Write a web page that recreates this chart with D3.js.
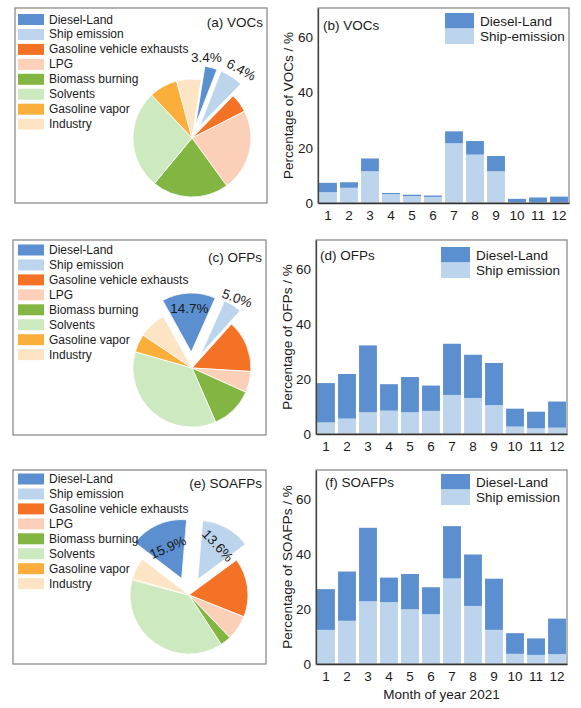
<!DOCTYPE html>
<html>
<head>
<meta charset="utf-8">
<script src="https://d3js.org/d3.v7.min.js"></script>
<style>
  body { margin: 0; background: #fff; }
  text { font-family: "Liberation Sans", Arial, sans-serif; fill: #1a1a1a; }
</style>
</head>
<body>
<svg id="vis"></svg>
<script>
// ---- data ----
const sources = ['Diesel-Land', 'Ship emission', 'Gasoline vehicle exhausts', 'LPG',
                 'Biomass burning', 'Solvents', 'Gasoline vapor', 'Industry'];
const srcColors = ['#5b8fcf', '#bcd4ec', '#f37226', '#fcd0b8', '#82b541', '#cde9c0', '#fbae3c', '#fde4c4'];

// pie shares (%) in the same order as sources
const vocShare   = [3.4, 6.4, 5.2, 22.5, 21.0, 27.0, 7.8, 6.7];
const ofpShare   = [14.7, 5.0, 14.3, 5.8, 11.7, 36.0, 5.0, 7.5];
const soafpShare = [15.9, 13.6, 16.1, 6.8, 3.0, 38.3, 0.3, 6.0];

const months = ['1', '2', '3', '4', '5', '6', '7', '8', '9', '10', '11', '12'];
const yTicks = [0, 20, 40, 60];

// monthly percentages: ship part and diesel-land part stacked on top
const vocShip    = [3.9, 5.5, 11.5, 3.2, 2.5, 2.2, 21.6, 17.5, 11.5, 0.2, 0.2, 0.2];
const vocDiesel  = [3.4, 2.0, 4.6, 0.4, 0.5, 0.5, 4.3, 4.9, 5.5, 1.3, 1.8, 2.1];
const ofpShip    = [4.2, 5.6, 7.9, 8.5, 7.9, 8.4, 14.2, 13.1, 10.5, 2.7, 2.1, 2.3];
const ofpDiesel  = [14.3, 16.2, 24.3, 9.6, 12.8, 9.2, 18.6, 15.7, 15.3, 6.5, 6.0, 9.5];
const soaShip    = [12.4, 15.7, 22.8, 22.5, 19.9, 18.1, 31.1, 21.1, 12.4, 3.7, 3.3, 3.6];
const soaDiesel  = [14.8, 17.9, 26.7, 8.9, 12.8, 9.8, 19.0, 18.7, 18.6, 7.5, 6.0, 12.9];

// ---- layout ----
const W = 581, H = 708;
const svg = d3.select('#vis').attr('width', W).attr('height', H);

const piePanels = [
  { box: [15, 8, 267, 203], cx: 192, cy: 138, r: 59, start: 9, explode: 14, title: '(a) VOCs', titleY: 27,
    legY: 19.5, shares: vocShare,
    labels: [{ dist: 82, dang: -5, rot: 0, size: 13.5 }, { dist: 84, dang: 3, rot: 28, size: 13.5 }] },
  { box: [13, 240, 266, 435], cx: 192, cy: 368, r: 59, start: -29, explode: 16, title: '(c) OFPs', titleY: 262,
    legY: 250, shares: ofpShare,
    labels: [{ dist: 60, dang: 0, rot: 0, size: 13.5 }, { dist: 83, dang: 0, rot: 20, size: 13.5 }] },
  { box: [13, 470, 266, 664], cx: 189, cy: 595, r: 59, start: -52.5, explode: 18, title: '(e) SOAFPs', titleY: 488,
    legY: 479, shares: soafpShare,
    labels: [{ dist: 52, dang: 0, rot: -24, size: 13.5 }, { dist: 57, dang: 1, rot: 47, size: 13.5 }] }
];

const barPanels = [
  { box: [318, 8, 569, 203], title: '(b) VOCs', titleX: 323, titleY: 25, yTitle: 'Percentage of VOCs / %',
    yTitleX: 288, legX: 445, legY: 13, shipName: 'Ship-emission', ship: vocShip, diesel: vocDiesel },
  { box: [316, 240, 567, 434], title: '(d) OFPs', titleX: 320, titleY: 255, yTitle: 'Percentage of OFPs / %',
    yTitleX: 287, legX: 441, legY: 247, shipName: 'Ship emission', ship: ofpShip, diesel: ofpDiesel },
  { box: [316, 470, 567, 664], title: '(f) SOAFPs', titleX: 325, titleY: 482, yTitle: 'Percentage of SOAFPs / %',
    yTitleX: 287, legX: 441, legY: 474, shipName: 'Ship emission', ship: soaShip, diesel: soaDiesel }
];

const rad = d => d * Math.PI / 180;

piePanels.forEach(p => {
  const [x0, y0, x1, y1] = p.box;
  const g = svg.append('g');

  g.append('rect')
    .attr('x', x0).attr('y', y0).attr('width', x1 - x0).attr('height', y1 - y0)
    .attr('fill', 'none').attr('stroke', '#8c8c8c').attr('stroke-width', 1.3);

  // pie
  const pie = d3.pie().sort(null).value(d => d)
    .startAngle(rad(p.start)).endAngle(rad(p.start) + 2 * Math.PI);
  const arcs = pie(p.shares);
  const arc = d3.arc().innerRadius(0).outerRadius(p.r);

  const pg = g.append('g').attr('transform', `translate(${p.cx},${p.cy})`);
  pg.selectAll('path').data(arcs).enter().append('path')
    .attr('d', arc)
    .attr('fill', (d, i) => srcColors[i])
    .attr('stroke', '#fff').attr('stroke-width', 0.8)
    .attr('transform', (d, i) => {
      if (i > 1) return null;
      const m = (d.startAngle + d.endAngle) / 2;
      return `translate(${p.explode * Math.sin(m)},${-p.explode * Math.cos(m)})`;
    });

  // percentage labels for the two highlighted sources
  arcs.slice(0, 2).forEach((d, i) => {
    const lb = p.labels[i];
    const m = (d.startAngle + d.endAngle) / 2 + rad(lb.dang);
    const lx = lb.dist * Math.sin(m), ly = -lb.dist * Math.cos(m);
    pg.append('text')
      .attr('transform', `translate(${lx},${ly}) rotate(${lb.rot})`)
      .attr('text-anchor', 'middle').attr('dominant-baseline', 'central')
      .style('font-size', lb.size + 'px')
      .text(d.data.toFixed(1) + '%');
  });

  // legend
  const leg = g.append('g');
  sources.forEach((s, i) => {
    const yy = p.legY + i * 14.95;
    leg.append('rect').attr('x', 18).attr('y', yy - 5.5).attr('width', 26).attr('height', 11)
      .attr('fill', srcColors[i]);
    leg.append('text').attr('x', 49).attr('y', yy).attr('dominant-baseline', 'central')
      .style('font-size', '12px').text(s);
  });

  g.append('text').attr('x', x1 - 4).attr('y', p.titleY).attr('text-anchor', 'end')
    .style('font-size', '13.5px').text(p.title);
});

barPanels.forEach((p, k) => {
  const [x0, y0, x1, y1] = p.box;
  const g = svg.append('g');

  const x = d3.scaleBand().domain(months).range([x0, x1]).paddingInner(0.15).paddingOuter(0.05);
  const y = d3.scaleLinear().domain([0, 70.5]).range([y1, y0]);

  const rows = months.map((m, i) => ({ m, ship: p.ship[i], diesel: p.diesel[i] }));
  const stack = d3.stack().keys(['ship', 'diesel'])(rows);
  const fills = { ship: srcColors[1], diesel: srcColors[0] };

  stack.forEach(layer => {
    g.append('g').selectAll('rect').data(layer).enter().append('rect')
      .attr('x', d => x(d.data.m))
      .attr('width', x.bandwidth())
      .attr('y', d => y(d[1]))
      .attr('height', d => y(d[0]) - y(d[1]))
      .attr('fill', fills[layer.key]);
  });

  g.append('rect')
    .attr('x', x0).attr('y', y0).attr('width', x1 - x0).attr('height', y1 - y0)
    .attr('fill', 'none').attr('stroke', '#8c8c8c').attr('stroke-width', 1.3);

  const xa = g.append('g').attr('transform', `translate(0,${y1})`)
    .call(d3.axisBottom(x).tickSize(0).tickPadding(7));
  xa.select('.domain').attr('stroke', '#333').attr('stroke-width', 1.3);
  xa.selectAll('text').style('font-size', '13.5px').attr('fill', '#1a1a1a');

  const ya = g.append('g').attr('transform', `translate(${x0},0)`)
    .call(d3.axisLeft(y).tickValues(yTicks).tickSize(0).tickPadding(5));
  ya.select('.domain').attr('stroke', '#444').attr('stroke-width', 1.3);
  ya.selectAll('text').style('font-size', '13.5px').attr('fill', '#1a1a1a');

  g.append('text')
    .attr('transform', `translate(${p.yTitleX},${(y0 + y1) / 2}) rotate(-90)`)
    .attr('text-anchor', 'middle').attr('dominant-baseline', 'central')
    .style('font-size', '13.5px').text(p.yTitle);

  g.append('text').attr('x', p.titleX).attr('y', p.titleY).attr('dominant-baseline', 'central')
    .style('font-size', '13.5px').text(p.title);

  // legend
  [['Diesel-Land', srcColors[0]], [p.shipName, srcColors[1]]].forEach((it, i) => {
    const yy = p.legY + i * 15.5;
    g.append('rect').attr('x', p.legX).attr('y', yy).attr('width', 29).attr('height', 15.5)
      .attr('fill', it[1]);
    g.append('text').attr('x', p.legX + 35).attr('y', yy + 8).attr('dominant-baseline', 'central')
      .style('font-size', '13.5px').text(it[0]);
  });

  if (k === barPanels.length - 1) {
    g.append('text').attr('x', (x0 + x1) / 2).attr('y', 694).attr('text-anchor', 'middle')
      .attr('dominant-baseline', 'central').style('font-size', '13.5px').text('Month of year 2021');
  }
});
</script>
</body>
</html>
